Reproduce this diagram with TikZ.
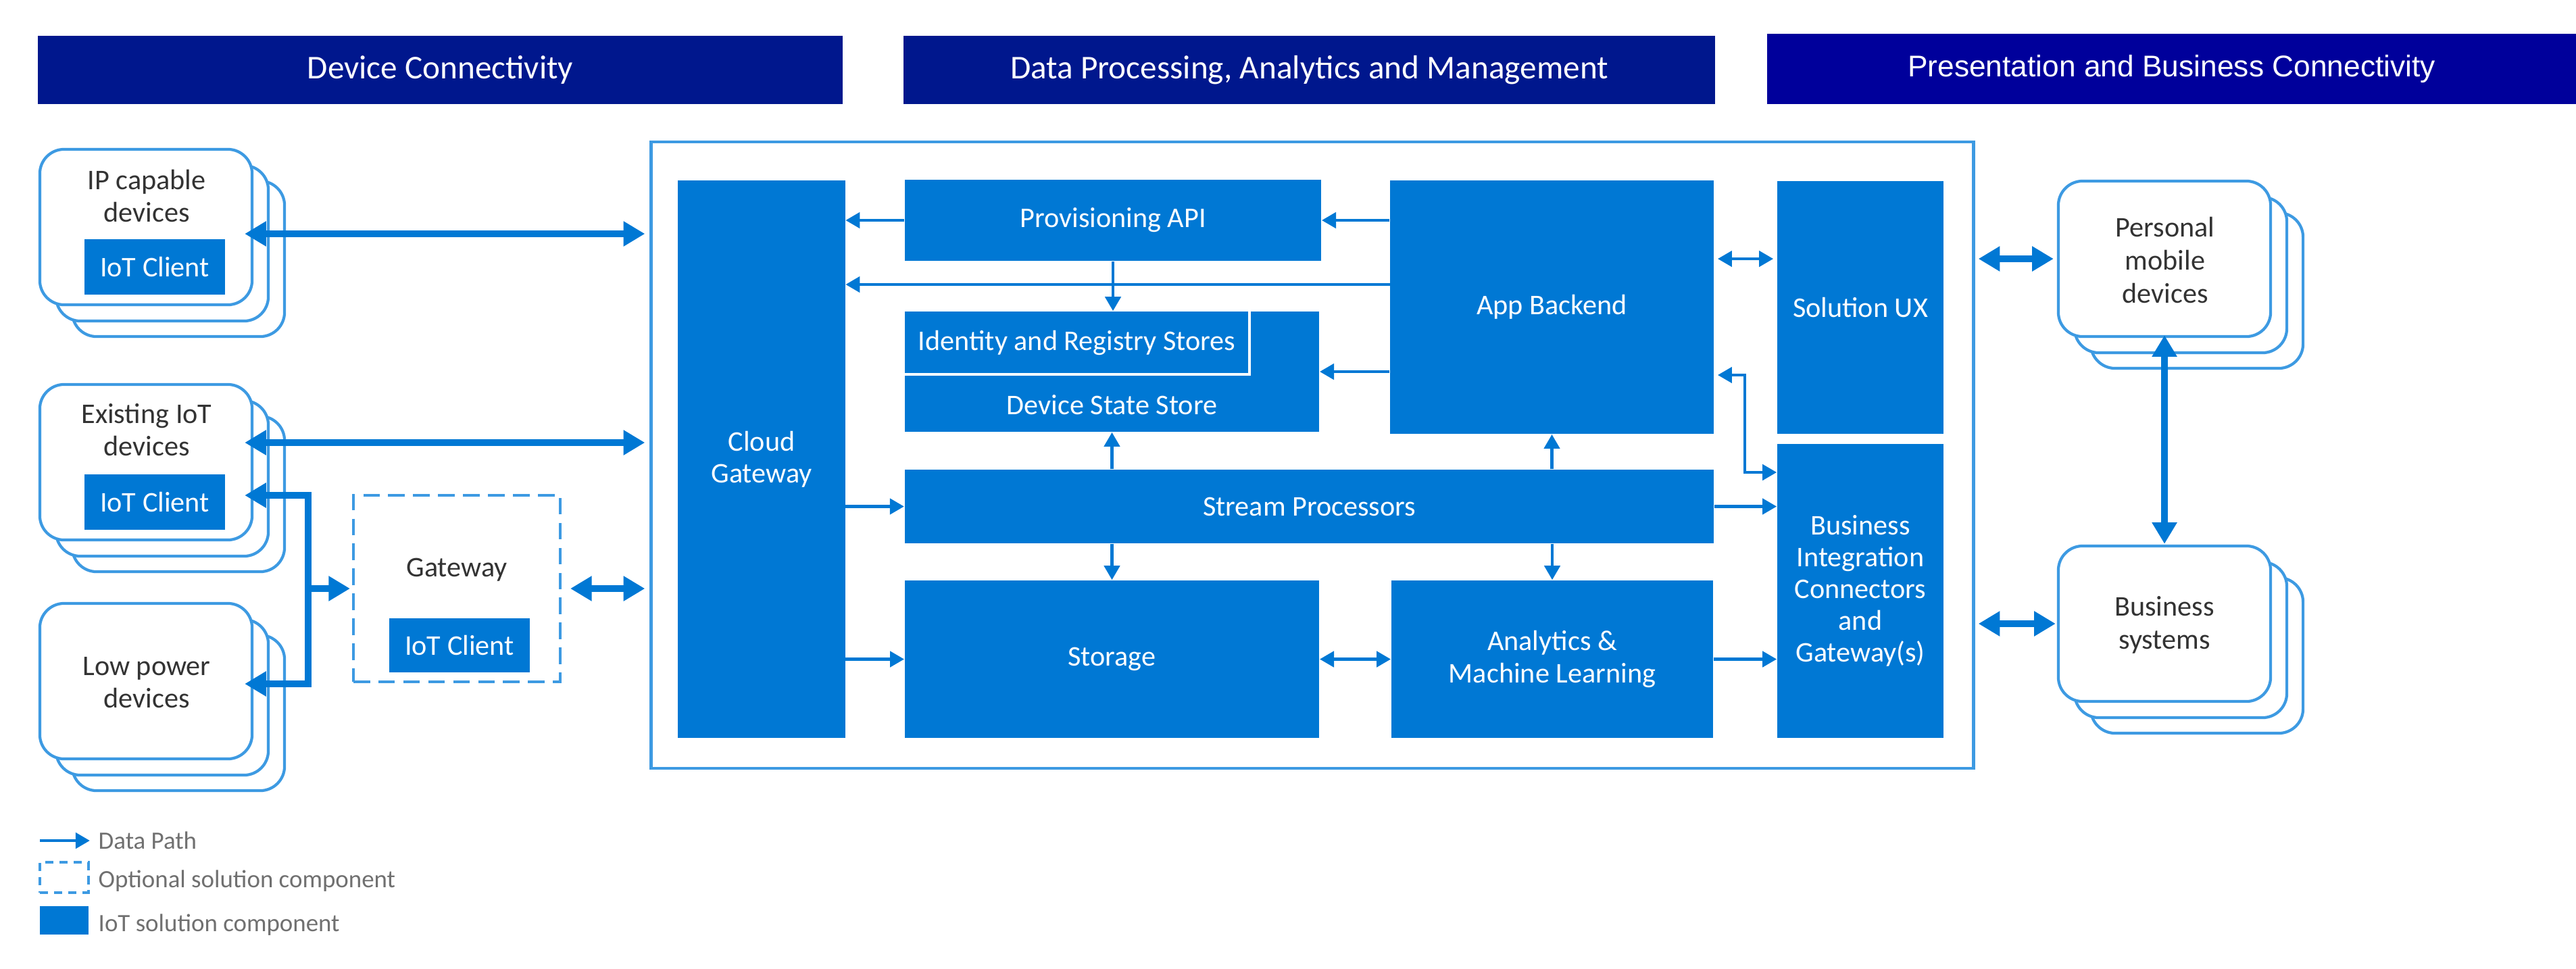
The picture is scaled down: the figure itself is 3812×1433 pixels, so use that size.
\documentclass[tikz,border=0pt]{standalone}
\usepackage{fontspec}
\setmainfont{Carlito}
\newfontfamily\headfont{Liberation Sans}
\usepackage{tikz}
\usetikzlibrary{arrows.meta}
\definecolor{azure}{HTML}{0078D4}
\definecolor{rim}{HTML}{3D9AE2}
\definecolor{navy}{HTML}{00178D}
\definecolor{royal}{HTML}{00009B}
\definecolor{ink}{HTML}{333333}
\definecolor{legendgray}{HTML}{707070}
\tikzset{>/.tip={Triangle[length=6pt,width=6.5pt]}}
\tikzset{Fat/.tip={Triangle[length=9pt,width=10pt]}}
\tikzset{
  head/.style={fill=navy, text=white, minimum height=1.01cm, font=\fontsize{14}{16}\selectfont},
  blk/.style={fill=azure, text=white, inner sep=0pt, align=center, font=\fontsize{12}{13.4}\selectfont},
  dev/.style={draw=rim, line width=1.2pt, fill=white, rounded corners=0.36cm, minimum width=3.14cm, minimum height=2.3cm},
  devtxt/.style={text=ink, inner sep=0pt, align=center, font=\fontsize{12}{13.8}\selectfont},
  gate/.style={draw=rim, line width=1.1pt, dash pattern=on 7pt off 3.5pt},
  flow/.style={draw=azure, line width=1.4pt, ->},
  fat/.style={draw=azure, line width=3pt, Fat-Fat},
  legtxt/.style={text=legendgray, inner sep=0pt, anchor=base west, font=\fontsize{10.5}{12}\selectfont}
}

\begin{document}
\begin{tikzpicture}[x=0.01cm, y=-0.01cm]
  \useasboundingbox (0,0) rectangle (3812,1433);
  % headers
  \node[head, minimum width=11.91cm] (hdev) at (651.5,103.5) {Device Connectivity};
  \node[head, minimum width=12.01cm] (hdata) at (1937.5,103.5) {Data Processing, Analytics and Management};
  \node[head, fill=royal, minimum width=11.97cm, minimum height=1.04cm, font=\headfont\fontsize{12.6}{14}\selectfont] (hpres) at (3213.5,102) {Presentation and Business Connectivity};
  % device stacks
  \foreach \n/\y in {ip/336, iot/684, low/1008}{
    \node[dev] (\n2) at (264,\y+47) {};
    \node[dev] (\n1) at (240,\y+24) {};
    \node[dev] (\n) at (216,\y) {};
  }
  \foreach \n/\y in {pers/383, bus/923}{
    \node[dev] (\n2) at (3251,\y+47) {};
    \node[dev] (\n1) at (3227,\y+24) {};
    \node[dev] (\n) at (3203,\y) {};
  }
  \node[devtxt] (iptxt) at (217,290) {IP capable\\devices};
  \node[blk, minimum width=2.07cm, minimum height=0.82cm] (ipcl) at (229,395) {IoT Client};
  \node[devtxt] (iottxt) at (217,636) {Existing IoT\\devices};
  \node[blk, minimum width=2.07cm, minimum height=0.81cm] (iotcl) at (229,743) {IoT Client};
  \node[devtxt] (lowtxt) at (217,1010) {Low power\\devices};
  \node[devtxt] (perstxt) at (3204,385) {Personal\\mobile\\devices};
  \node[devtxt] (bustxt) at (3203,925) {Business\\systems};
  % gateway
  \node[gate, minimum width=3.06cm, minimum height=2.76cm] (gw) at (676,871) {};
  \node[devtxt] (gwtxt) at (676,843) {Gateway};
  \node[blk, minimum width=2.07cm, minimum height=0.8cm] (gwcl) at (680,955) {IoT Client};
  % solution frame and blocks
  \node[draw=rim, line width=1.2pt, minimum width=19.56cm, minimum height=9.27cm] (frame) at (1942,673.5) {};
  \node[blk, minimum width=2.47cm, minimum height=8.25cm] (cgw) at (1127,679.5) {Cloud\\Gateway};
  \node[blk, minimum width=6.16cm, minimum height=1.2cm] (prov) at (1647,326) {Provisioning API};
  \node[blk, minimum width=6.13cm, minimum height=1.78cm] (dss) at (1645.5,550) {};
  \node[blk, minimum width=5.09cm, minimum height=0.92cm] (ident) at (1593.5,507) {Identity and Registry Stores};
  \draw[white, line width=1.2pt] (ident.south west) -| (ident.north east);
  \node[blk] (dsstxt) at (1645.5,599) {Device State Store};
  \node[blk, minimum width=11.97cm, minimum height=1.09cm] (stream) at (1937.5,749.5) {Stream Processors};
  \node[blk, minimum width=6.13cm, minimum height=2.33cm] (storage) at (1645.5,975.5) {Storage};
  \node[blk, minimum width=4.79cm, minimum height=3.75cm] (app) at (2296.5,454.5) {App Backend};
  \node[blk, minimum width=4.76cm, minimum height=2.33cm] (anal) at (2297,975.5) {Analytics \&\\Machine Learning};
  \node[blk, minimum width=2.46cm, minimum height=3.74cm] (solux) at (2753,455) {Solution UX};
  \node[blk, minimum width=2.46cm, minimum height=4.35cm] (bi) at (2753,874.5) {Business\\Integration\\Connectors\\and\\Gateway(s)};
  % inner data paths
  \draw[flow] (prov.west) -- (prov.west -| cgw.east);
  \draw[flow] (app.west |- prov.east) -- (prov.east);
  \coordinate (lane) at (2057,421);
  \draw[flow] (lane) -- (lane -| cgw.east);
  \draw[flow] (app.west |- dss.east) -- (dss.east);
  \draw[flow] (prov.south) -- (prov.south |- ident.north);
  \draw[flow] (dss.south |- stream.north) -- (dss.south);
  \draw[flow] (storage.north |- stream.south) -- (storage.north);
  \draw[flow] (cgw.east |- stream.west) -- (stream.west);
  \draw[flow] (cgw.east |- storage.west) -- (storage.west);
  \draw[flow, <->] (storage.east) -- (anal.west);
  \draw[flow] (app.south |- stream.north) -- (app.south);
  \draw[flow] (anal.north |- stream.south) -- (anal.north);
  \draw[flow, <->, shorten <=0.05cm, shorten >=0.05cm] (app.east |- 0,383) -- (solux.west |- 0,383);
  \coordinate (bend) at (2582,699);
  \draw[flow, <->, shorten <=0.05cm] (app.east |- 0,555) -| (bend) -- (bend -| bi.west);
  \draw[flow] (stream.east) -- (stream.east -| bi.west);
  \draw[flow] (anal.east) -- (anal.east -| bi.west);
  % outer data paths
  \draw[fat, shorten <=-0.13cm, shorten >=0.07cm] (ip.east |- 0,346) -- (frame.west |- 0,346);
  \draw[fat, shorten <=-0.13cm, shorten >=0.07cm] (iot.east |- 0,655) -- (frame.west |- 0,655);
  \draw[fat, shorten <=0.13cm, shorten >=0.07cm] (gw.east) -- (gw.east -| frame.west);
  \coordinate (jt) at (456,733);
  \coordinate (jb) at (456,1012);
  \draw[fat, shorten <=-0.13cm, shorten >=-0.13cm] (iot.east |- jt) -- (jt) -- (jb) -- (low.east |- jb);
  \draw[fat, -Fat, shorten >=0.03cm] (jt |- gw.west) -- (gw.west);
  \draw[fat, shorten <=0.05cm, shorten >=0.05cm] (frame.east |- pers.west) -- (pers.west);
  \draw[fat, shorten <=0.05cm, shorten >=0.02cm] (frame.east |- bus.west) -- (bus.west);
  \draw[fat, shorten <=-0.04cm, shorten >=0.01cm] (pers.south) -- (bus.north);
  % legend
  \coordinate (lg0) at (59,1244);
  \coordinate (lg1) at (133,1244);
  \draw[flow] (lg0) -- (lg1);
  \node[gate, dash pattern=on 3.5pt off 2.5pt, minimum width=0.72cm, minimum height=0.45cm] (lgopt) at (95,1298.5) {};
  \node[blk, minimum width=0.72cm, minimum height=0.42cm] (lgblk) at (95,1362) {};
  \node[legtxt] (lgdata) at (145,1256) {Data Path};
  \node[legtxt] (lgopttxt) at (145,1313) {Optional solution component};
  \node[legtxt] (lgblktxt) at (145,1378) {IoT solution component};
\end{tikzpicture}
\end{document}
